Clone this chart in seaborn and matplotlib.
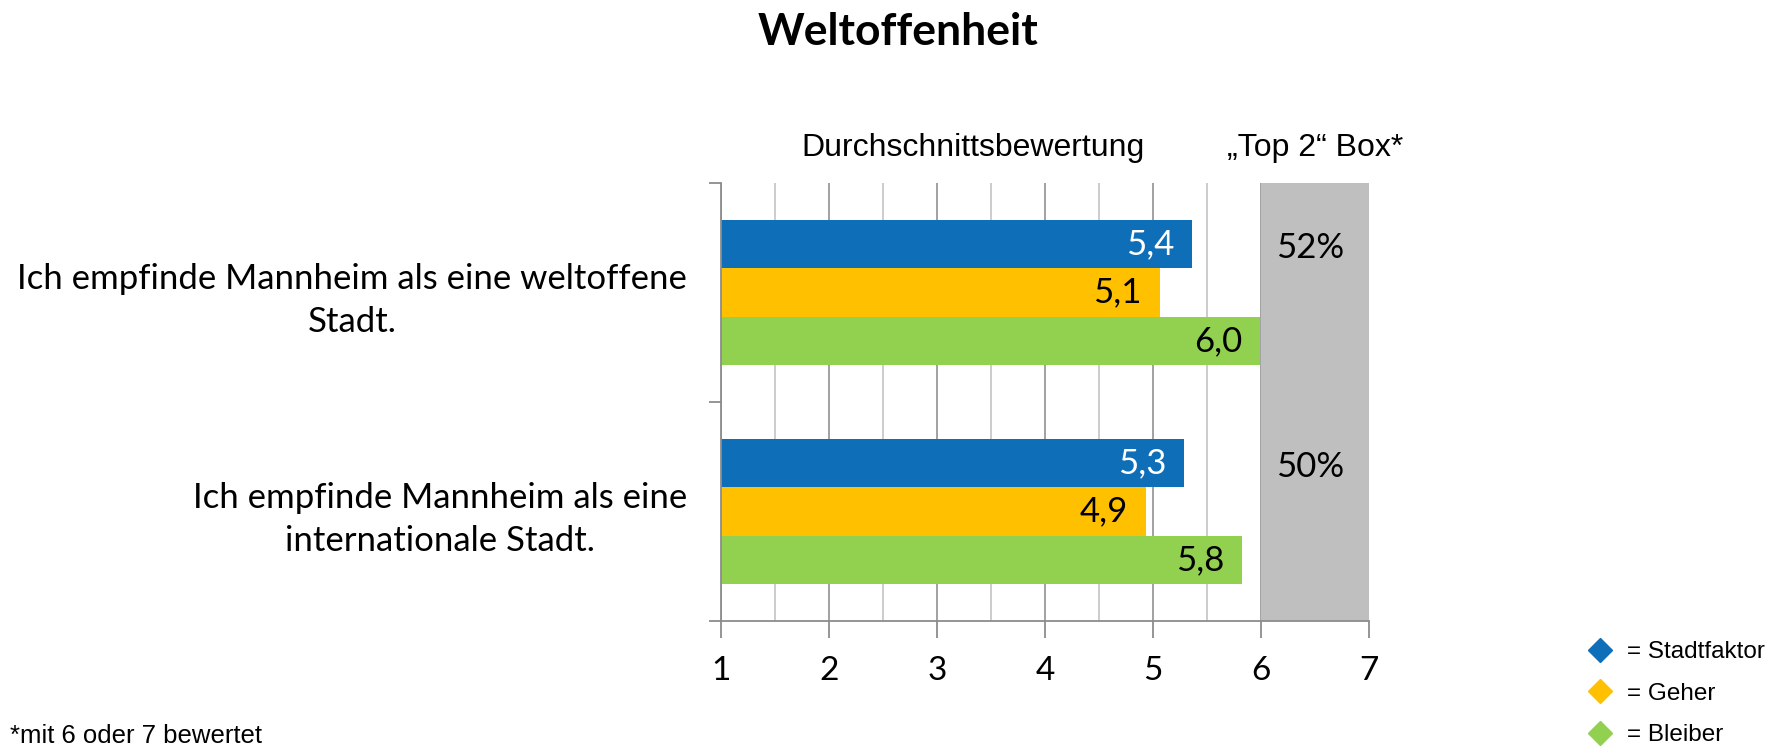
import pandas as pd
import matplotlib.pyplot as plt
from matplotlib.lines import Line2D
from matplotlib.ticker import MultipleLocator
import seaborn as sns

# Werte
aussagen = ['Ich empfinde Mannheim als eine weltoffene\nStadt.',
            'Ich empfinde Mannheim als eine\ninternationale Stadt.']
gruppen = ['Stadtfaktor', 'Geher', 'Bleiber']
stadtfaktor = [5.36, 5.29]
geher = [5.06, 4.93]
bleiber = [5.99, 5.82]
top2 = ['52%', '50%']
farben = ['#0E6FB8', '#FFC000', '#92D050']
x_ticks = [1, 2, 3, 4, 5, 6, 7]

df = pd.DataFrame({
    'Aussage': aussagen * 3,
    'Gruppe': [g for g in gruppen for _ in aussagen],
    'Wert': stadtfaktor + geher + bleiber,
})

sns.set_theme(style='white')
plt.rcParams['font.family'] = ['Lato', 'DejaVu Sans']
plt.rcParams['text.color'] = 'black'
plt.rcParams['xtick.labelcolor'] = 'black'
plt.rcParams['ytick.labelcolor'] = 'black'
grau = '#8C8C8C'

fig = plt.figure(figsize=(17.75, 7.46), dpi=100)
ax = fig.add_axes([0.4063, 0.1676, 0.3650, 0.5871])

sns.barplot(data=df, x='Wert', y='Aussage', hue='Gruppe', hue_order=gruppen,
            palette=farben, orient='h', width=0.665, saturation=1, linewidth=0,
            errorbar=None, legend=False, ax=ax)

ax.set_xlim(1, 7)
ax.set_ylim(1.5, -0.5)
ax.axvspan(6, 7, color='#BFBFBF', lw=0, zorder=1.5)

# Achsen und Gitter
ax.set_xticks(x_ticks)
ax.xaxis.set_minor_locator(MultipleLocator(0.5))
ax.grid(axis='x', which='major', color='#9A9A9A', lw=1.3)
ax.grid(axis='x', which='minor', color='#C8C8C8', lw=1.3)
ax.tick_params(axis='x', which='major', bottom=True, length=12, width=1.3,
               color=grau, labelcolor='black', labelsize=24, pad=13)
ax.tick_params(axis='x', which='minor', length=0)

ax.set_yticks([0, 1])
ax.set_yticklabels(aussagen)
ax.set_yticks([-0.5, 0.5, 1.5], minor=True)
ax.tick_params(axis='y', which='major', length=0, pad=24.5, labelsize=25,
               labelcolor='black')
ax.tick_params(axis='y', which='minor', left=True, length=9, width=1.3, color=grau)
for lbl in ax.get_yticklabels():
    lbl.set_multialignment('center')
    lbl.set_linespacing(1.4)
ax.set_xlabel('')
ax.set_ylabel('')

for s in ['top', 'right']:
    ax.spines[s].set_visible(False)
for s in ['left', 'bottom']:
    ax.spines[s].set_color(grau)
    ax.spines[s].set_linewidth(1.3)

# Wertebeschriftung in den Balken
for cont, tc in zip(ax.containers, ['white', 'black', 'black']):
    for bar in cont:
        w = bar.get_width()
        ax.text(w - 0.165, bar.get_y() + bar.get_height() / 2,
                f'{w:.1f}'.replace('.', ','), ha='right', va='center',
                color=tc, fontsize=25, zorder=3)

for i, t in enumerate(top2):
    ax.text(6.45, i - 0.205, t, ha='center', va='center', fontsize=25, zorder=3)

# Texte
fig.text(0.506, 0.957, 'Weltoffenheit', fontsize=32, fontweight='bold',
         ha='center', va='center')
fig.text(0.548, 0.801, 'Durchschnittsbewertung', family='Liberation Sans',
         fontsize=23, ha='center', va='center')
fig.text(0.741, 0.801, '\u201eTop 2\u201c Box*', family='Liberation Sans',
         fontsize=23, ha='center', va='center')
fig.text(0.0056, 0.013, '*mit 6 oder 7 bewertet', family='Liberation Sans',
         fontsize=18.5, va='center')

handles = [Line2D([], [], marker='D', color=c, ls='none', markersize=12)
           for c in farben]
fig.legend(handles, ['= ' + g for g in gruppen], loc='center left',
           bbox_to_anchor=(0.8945, 0.0700), frameon=False,
           prop={'family': 'Liberation Sans', 'size': 17.5},
           handlelength=1.0, handletextpad=0.61, labelspacing=0.8,
           borderpad=0, borderaxespad=0)

fig.savefig('out.png', dpi=100)
